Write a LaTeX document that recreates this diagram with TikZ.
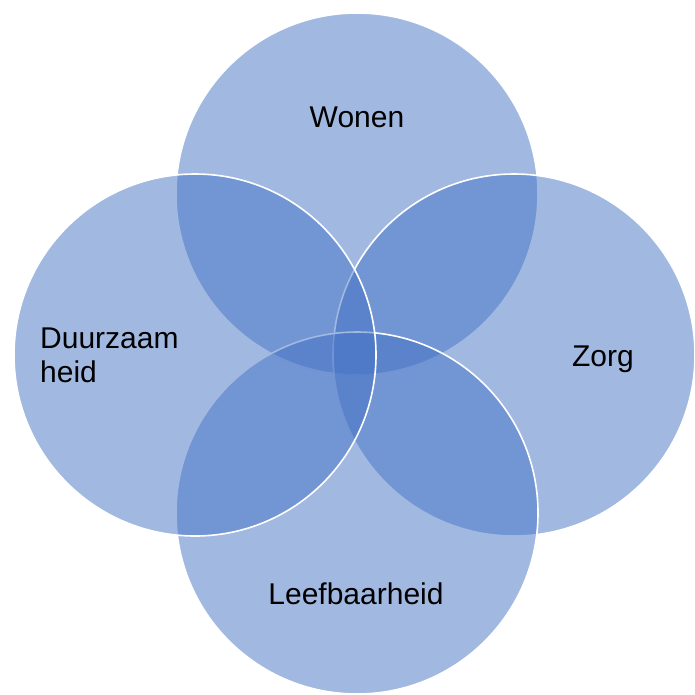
\documentclass[tikz,border=0pt]{standalone}
\usepackage{fontspec}
\setmainfont{Liberation Sans}
\definecolor{vennblue}{HTML}{4472C4}
\begin{document}
\begin{tikzpicture}[x=1pt,y=-1pt,
  venn/.style={circle, inner sep=0pt, minimum size=362pt, fill=vennblue, fill opacity=0.5, draw=white, line width=1.6pt},
  lbl/.style={inner sep=0pt, text=black, font=\fontsize{30}{34}\selectfont}]
\useasboundingbox (0,0) rectangle (695,694);
\node[venn] (top) at (357,194) {};
\node[venn] (right) at (514,355) {};
\node[venn] (bottom) at (357,513) {};
\node[venn] (left) at (195,355) {};
\node[lbl, anchor=base] (wonen) at (357,127) {Wonen};
\node[lbl, anchor=base] (zorg) at (603,366) {Zorg};
\node[lbl, anchor=base] (leef) at (356,604) {Leefbaarheid};
\node[lbl, anchor=west, align=left] (duur) at (40,355) {Duurzaam\\heid};
\end{tikzpicture}
\end{document}
